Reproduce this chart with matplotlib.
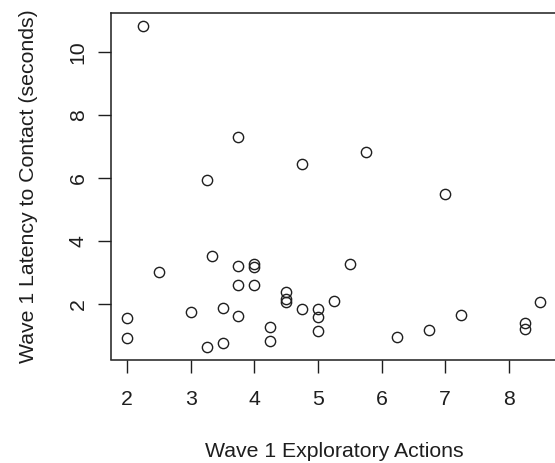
import matplotlib
matplotlib.use("Agg")
import matplotlib.pyplot as plt
import numpy as np

# Wave 1 exploratory actions vs. latency to contact
actions = [2, 2, 2.25, 2.5, 3, 3.25, 3.25, 3.33, 3.5, 3.5,
           3.75, 3.75, 3.75, 3.75, 4, 4, 4, 4.25, 4.25, 4.5,
           4.5, 4.5, 4.75, 4.75, 5, 5, 5, 5.25, 5.5, 5.75,
           6.25, 6.75, 7, 7.25, 8.25, 8.25, 8.5]
latency = [1.57, 0.93, 10.81, 3.03, 1.77, 5.95, 0.66, 3.53, 1.89, 0.79,
           7.29, 3.22, 2.61, 1.64, 3.27, 3.17, 2.61, 1.29, 0.83, 2.40,
           2.17, 2.08, 6.43, 1.85, 1.85, 1.59, 1.17, 2.11, 3.29, 6.83,
           0.96, 1.18, 5.49, 1.66, 1.41, 1.22, 2.06]
x_ticks = [2, 3, 4, 5, 6, 7, 8]
y_ticks = [2, 4, 6, 8, 10]
x_label = "Wave 1 Exploratory Actions"
y_label = "Wave 1 Latency to Contact (seconds)"

plt.rcParams["font.family"] = ["Liberation Sans", "DejaVu Sans"]
INK = "#1e1e1e"
FS = 15.3


def r_limits(vals):
    # R pads the data range by 4% on each side
    lo, hi = min(vals), max(vals)
    pad = (hi - lo) * 0.04
    return lo - pad, hi + pad


W, H = 555, 463
fig = plt.figure(figsize=(W / 100, H / 100), dpi=100)
# right edge of the box is cut off in the reference, so the axes run past the figure
ax = fig.add_axes([110.7 / W, (H - 359.5) / H, (557 - 110.7) / W, (359.5 - 13.3) / H])

ax.plot(actions, latency, linestyle="none", marker="o", markersize=7.4,
        markerfacecolor="none", markeredgecolor=INK, markeredgewidth=1.0)

ax.set_xlim(*r_limits(actions))
ax.set_ylim(*r_limits(latency))
ax.set_xticks(x_ticks)
ax.set_yticks(y_ticks)
ax.set_yticklabels([str(t) for t in y_ticks], rotation=90, va="center")

for sp in ax.spines.values():
    sp.set_linewidth(1.1)
    sp.set_color(INK)
ax.tick_params(length=9.5, width=1.0, color=INK, labelcolor=INK, labelsize=FS)
ax.tick_params(axis="x", pad=12.5)
ax.tick_params(axis="y", pad=7)

ax.set_xlabel(x_label, fontsize=FS, color=INK, labelpad=24)
ax.set_ylabel(y_label, fontsize=FS, color=INK, labelpad=22)

fig.savefig("out.png", dpi=100)
